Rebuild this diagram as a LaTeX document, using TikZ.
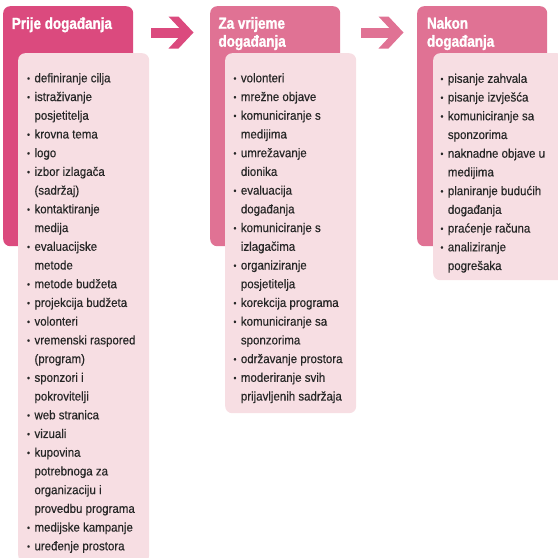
\documentclass[tikz,border=0pt]{standalone}
\usepackage{fontspec}
\setmainfont{Liberation Sans}[FakeStretch=0.92, FakeBold=0.4]
\newfontfamily\titlefont{Liberation Sans}[FakeStretch=0.84, UprightFont=*-Bold, UprightFeatures={FakeBold=1.4}]
\definecolor{pinkA}{HTML}{DB4A7E}
\definecolor{pinkB}{HTML}{E07294}
\definecolor{pinkL}{HTML}{F7DEE3}
\definecolor{txt}{HTML}{262626}
\newcommand\itm[1]{\hbox{\llap{\raisebox{0.8pt}{\fontsize{9}{9}\selectfont •}\hspace{4.5pt}}#1}}
\newcommand\cnt[1]{\hbox{#1}}
\newcommand\listbox[1]{\vtop{\baselineskip=18.72pt\lineskiplimit=-20pt\relax #1}}
\tikzset{
  outerbox/.style={rounded corners=7pt, minimum width=130pt, minimum height=240pt, inner sep=0pt, anchor=north west},
  innerbox/.style={fill=pinkL, rounded corners=7pt, minimum width=131pt, inner sep=0pt, anchor=north west},
  titletext/.style={text=white, font=\titlefont\fontsize{16}{18}\selectfont, align=left, inner sep=0pt, anchor=base west},
  listtext/.style={text=txt, font=\fontsize{12.5}{18.72}\selectfont, inner sep=0pt, anchor=base west},
}
\begin{document}
\begin{tikzpicture}[x=1pt,y=-1pt]
\useasboundingbox (0,0) rectangle (558,558);
% outer boxes
\node[outerbox, fill=pinkA] (o1) at (3,6) {};
\node[outerbox, fill=pinkB] (o2) at (210,6) {};
\node[outerbox, fill=pinkB] (o3) at (417,6) {};
% inner boxes
\node[innerbox, minimum height=509pt] (i1) at (18,53) {};
\node[innerbox, minimum height=360pt] (i2) at (225,53) {};
\node[innerbox, minimum height=227pt] (i3) at (433,53) {};
% arrows
\fill[pinkA] (151,27.5) rectangle (184,37.5);
\fill[pinkA] (168.5,16.5) -- (178.5,16.5) -- (193.5,32.5) -- (178.5,48.5) -- (168.5,48.5) -- (183.5,32.5) -- cycle;
\fill[pinkB] (361,27.5) rectangle (394,37.5);
\fill[pinkB] (378.5,16.5) -- (388.5,16.5) -- (403.5,32.5) -- (388.5,48.5) -- (378.5,48.5) -- (393.5,32.5) -- cycle;
% titles
\node[titletext] (t1) at (11.7,28.9) {Prije događanja};
\node[titletext] (t2a) at (218.3,28.7) {Za vrijeme};
\node[titletext] (t2b) at (218.3,46.7) {događanja};
\node[titletext] (t3a) at (426.8,28.7) {Nakon};
\node[titletext] (t3b) at (426.8,46.7) {događanja};
% lists
\node[listtext] (l1) at (34.3,82.3) {\listbox{%
\itm{definiranje cilja}
\itm{istraživanje}
\cnt{posjetitelja}
\itm{krovna tema}
\itm{logo}
\itm{izbor izlagača}
\cnt{(sadržaj)}
\itm{kontaktiranje}
\cnt{medija}
\itm{evaluacijske}
\cnt{metode}
\itm{metode budžeta}
\itm{projekcija budžeta}
\itm{volonteri}
\itm{vremenski raspored}
\cnt{(program)}
\itm{sponzori i}
\cnt{pokrovitelji}
\itm{web stranica}
\itm{vizuali}
\itm{kupovina}
\cnt{potrebnoga za}
\cnt{organizaciju i}
\cnt{provedbu programa}
\itm{medijske kampanje}
\itm{uređenje prostora}}};
\node[listtext] (l2) at (240.7,82.3) {\listbox{%
\itm{volonteri}
\itm{mrežne objave}
\itm{komuniciranje s}
\cnt{medijima}
\itm{umrežavanje}
\cnt{dionika}
\itm{evaluacija}
\cnt{događanja}
\itm{komuniciranje s}
\cnt{izlagačima}
\itm{organiziranje}
\cnt{posjetitelja}
\itm{korekcija programa}
\itm{komuniciranje sa}
\cnt{sponzorima}
\itm{održavanje prostora}
\itm{moderiranje svih}
\cnt{prijavljenih sadržaja}}};
\node[listtext] (l3) at (447.7,82.8) {\listbox{%
\itm{pisanje zahvala}
\itm{pisanje izvješća}
\itm{komuniciranje sa}
\cnt{sponzorima}
\itm{naknadne objave u}
\cnt{medijima}
\itm{planiranje budućih}
\cnt{događanja}
\itm{praćenje računa}
\itm{analiziranje}
\cnt{pogrešaka}}};
\end{tikzpicture}
\end{document}
